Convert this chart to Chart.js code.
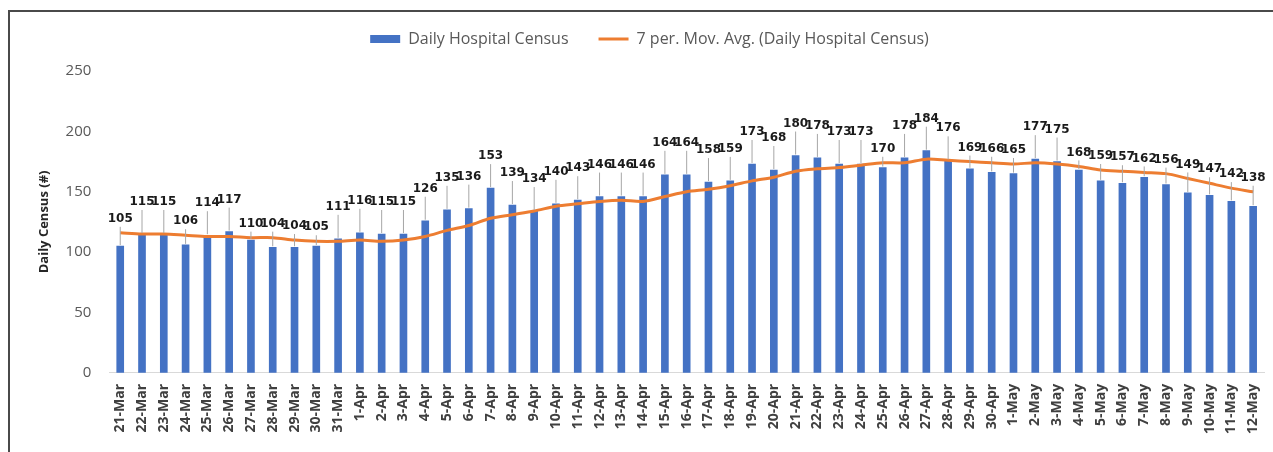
<!DOCTYPE html>
<html>
<head>
<meta charset="utf-8">
<script src="https://cdn.jsdelivr.net/npm/chart.js@4"></script>
<style>
	html, body { margin: 0; padding: 0; background: #fff; }
	#wrap { position: relative; width: 1273px; height: 452px; overflow: hidden; }
	#frame { position: absolute; left: 8px; top: 10px; width: 1400px; height: 600px; border-top: 2px solid #4a4a4a; border-left: 2px solid #4a4a4a; }
	canvas { position: absolute; left: 0; top: 0; }
</style>
</head>
<body>
<div id="wrap">
	<div id="frame"></div>
	<canvas id="chart" width="1273" height="452"></canvas>
</div>
<script>
var days = [
	'21-Mar', '22-Mar', '23-Mar', '24-Mar', '25-Mar', '26-Mar', '27-Mar', '28-Mar', '29-Mar', '30-Mar', '31-Mar',
	'1-Apr', '2-Apr', '3-Apr', '4-Apr', '5-Apr', '6-Apr', '7-Apr', '8-Apr', '9-Apr', '10-Apr',
	'11-Apr', '12-Apr', '13-Apr', '14-Apr', '15-Apr', '16-Apr', '17-Apr', '18-Apr', '19-Apr', '20-Apr',
	'21-Apr', '22-Apr', '23-Apr', '24-Apr', '25-Apr', '26-Apr', '27-Apr', '28-Apr', '29-Apr', '30-Apr',
	'1-May', '2-May', '3-May', '4-May', '5-May', '6-May', '7-May', '8-May', '9-May', '10-May', '11-May', '12-May'
];

var census = [
	105, 115, 115, 106, 114, 117, 110, 104, 104, 105, 111,
	116, 115, 115, 126, 135, 136, 153, 139, 134, 140,
	143, 146, 146, 146, 164, 164, 158, 159, 173, 168,
	180, 178, 173, 173, 170, 178, 184, 176, 169, 166,
	165, 177, 175, 168, 159, 157, 162, 156, 149, 147, 142, 138
];

// 7 per. moving average
var movAvg = [
	116, 115, 115, 114, 113, 113, 112, 112, 110, 109, 109,
	110, 109, 110, 113, 118, 122, 128, 131, 134, 138,
	140, 142, 143, 142, 146, 150, 152, 155, 159, 162,
	167, 169, 170, 172, 174, 174, 177, 176, 175, 174,
	173, 174, 173, 171, 168, 167, 166, 165, 161, 157, 153, 150
];

var yTicks = [0, 50, 100, 150, 200, 250];

var BLUE = '#4472c4';
var ORANGE = '#ed7d31';

// value labels above the bars, lifted clear of the average line
var barLabels = {
	id: 'barLabels',
	afterDatasetsDraw: function (chart) {
		var ctx = chart.ctx;
		var bars = chart.getDatasetMeta(0).data;
		var pts = chart.getDatasetMeta(1).data;
		ctx.save();
		ctx.font = 'bold 12px "DejaVu Sans"';
		ctx.fillStyle = '#1a1a1a';
		ctx.textAlign = 'center';
		ctx.textBaseline = 'middle';
		bars.forEach(function (bar, i) {
			var barY = bar.y;
			var lineY = pts[i] ? pts[i].y : barY;
			var cy;
			if (barY <= lineY + 2) {
				cy = barY - 32;
			} else {
				cy = lineY - 14;
			}
			var bottom = cy + 7;
			if (barY - bottom > 5) {
				ctx.strokeStyle = '#a6a6a6';
				ctx.lineWidth = 1;
				ctx.beginPath();
				ctx.moveTo(bar.x, barY - 1);
				ctx.lineTo(bar.x, bottom + 1);
				ctx.stroke();
			}
			ctx.fillText(String(census[i]), bar.x, cy);
		});
		ctx.restore();
	}
};

// extra room under the legend
var legendGap = {
	id: 'legendGap',
	beforeInit: function (chart) {
		var fit = chart.legend.fit;
		chart.legend.fit = function () {
			fit.bind(chart.legend)();
			this.height += 14;
		};
	}
};

new Chart(document.getElementById('chart'), {
	type: 'bar',
	data: {
		labels: days,
		datasets: [{
			type: 'bar',
			label: 'Daily Hospital Census',
			data: census,
			backgroundColor: BLUE,
			borderWidth: 0,
			barThickness: 7,
			order: 2
		}, {
			type: 'line',
			label: '7 per. Mov. Avg. (Daily Hospital Census)',
			data: movAvg,
			borderColor: ORANGE,
			backgroundColor: ORANGE,
			borderWidth: 3,
			pointRadius: 0,
			tension: 0.3,
			fill: false,
			order: 1
		}]
	},
	options: {
		responsive: false,
		animation: false,
		devicePixelRatio: 1,
		layout: { padding: { top: 1, left: 32, right: 6, bottom: 15 } },
		plugins: {
			legend: {
				position: 'top',
				labels: {
					usePointStyle: true,
					pointStyleWidth: 30,
					boxHeight: 8,
					padding: 30,
					color: '#595959',
					font: { family: '"Open Sans"', size: 16 },
					sort: function (a, b) { return a.datasetIndex - b.datasetIndex; },
					generateLabels: function (chart) {
						var items = Chart.defaults.plugins.legend.labels.generateLabels(chart);
						items.forEach(function (it) {
							if (it.datasetIndex === 0) {
								it.pointStyle = 'rect';
								it.lineWidth = 0;
							} else {
								it.pointStyle = 'line';
								it.lineWidth = 3;
								it.strokeStyle = ORANGE;
							}
						});
						return items;
					}
				}
			},
			tooltip: { enabled: false }
		},
		scales: {
			x: {
				grid: { display: false },
				border: { display: true, color: '#d9d9d9', width: 1 },
				ticks: {
					autoSkip: false,
					maxRotation: 90,
					minRotation: 90,
					color: '#404040',
					font: { family: '"Open Sans"', size: 14, weight: 'bold' }
				}
			},
			y: {
				min: 0,
				max: 250,
				afterBuildTicks: function (axis) {
					axis.ticks = yTicks.map(function (v) { return { value: v }; });
				},
				grid: { display: false },
				border: { display: false },
				ticks: {
					color: '#595959',
					padding: 10,
					font: { family: '"Open Sans"', size: 15 }
				},
				title: {
					display: true,
					text: 'Daily Census (#)',
					color: '#262626',
					font: { family: '"Open Sans"', size: 13, weight: 'bold' }
				}
			}
		}
	},
	plugins: [legendGap, barLabels]
});
</script>
</body>
</html>
